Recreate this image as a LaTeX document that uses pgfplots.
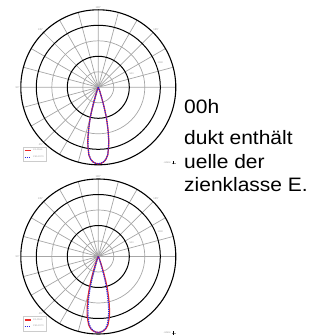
\documentclass[border=0pt]{standalone}
\usepackage{fontspec}
\setmainfont{Liberation Sans}
\newfontfamily\bodyfont[FakeStretch=1.08]{Liberation Sans}
\usepackage{pgfplots}
\usepackage{pgfplotstable}
\usepgfplotslibrary{polar}
\pgfplotsset{compat=1.18}

% intensity I (cd/klm) against gamma t (deg); t<0 is the opposite half plane
\pgfplotstableread{
t I
-90 0
-60 0
-40 2
-30 6
-25 15
-22 35
-20 70
-19 110
-18 170
-17 260
-16 380
-15 500
-14 590
-13 690
-12 790
-11 890
-10 965
-8 1100
-6 1170
-4 1208
-2 1228
0 1235
2 1228
4 1208
6 1170
8 1100
10 965
11 890
12 790
13 690
14 590
15 500
16 380
17 260
18 170
19 110
20 70
22 35
25 15
30 6
40 2
60 0
90 0
}\redA
\pgfplotstableread{
t I
-90 0
-60 0
-40 2
-30 5
-25 13
-22 32
-20 65
-19 105
-18 160
-17 250
-16 370
-15 490
-14 580
-13 680
-12 780
-11 880
-10 955
-8 1095
-6 1168
-4 1206
-2 1226
0 1233
2 1226
4 1206
6 1168
8 1095
10 955
11 880
12 780
13 680
14 580
15 490
16 370
17 250
18 160
19 105
20 65
22 32
25 13
30 5
40 2
60 0
90 0
}\blueA
\pgfplotstableread{
t I
-90 0
-60 0
-44 2
-32 7
-26 20
-23 50
-21 95
-20 140
-19 205
-18 295
-17 405
-16 510
-15 600
-14 690
-13 780
-12 865
-11 945
-10 1010
-8 1115
-6 1172
-4 1203
-2 1219
0 1225
2 1219
4 1203
6 1172
8 1115
10 1010
11 945
12 865
13 780
14 690
15 600
16 510
17 405
18 295
19 205
20 140
21 95
23 50
26 20
32 7
44 2
60 0
90 0
}\redB
\pgfplotstableread{
t I
-90 0
-60 0
-40 2
-30 5
-25 14
-22 33
-20 68
-19 105
-18 165
-17 255
-16 370
-15 490
-14 580
-13 680
-12 780
-11 880
-10 955
-8 1090
-6 1160
-4 1198
-2 1218
0 1225
2 1218
4 1198
6 1160
8 1090
10 955
11 880
12 780
13 680
14 580
15 490
16 370
17 255
18 165
19 105
20 68
22 33
25 14
30 5
40 2
60 0
90 0
}\blueB

\definecolor{cred}{RGB}{235,40,40}
\definecolor{cblue}{RGB}{40,40,230}

\pgfplotsset{
  ldk/.style={
    anchor=center, scale only axis,
    width=155bp, height=155bp,
    xmin=0, xmax=360, ymin=0, ymax=1250,
    xtick={-90,-45,0,45,90,135,180,225},
    xticklabels={0°,45°,,135°,180°,135°,90°,45°},
    minor xtick={-75,-60,-30,-15,15,30,60,75,105,120,150,165,195,210,240,255},
    ytick={500,1000}, minor ytick={250,750},
    yticklabels={},
    grid=both,
    major x grid style={gray!70, line width=0.7bp},
    minor x grid style={gray!70, line width=0.7bp},
    major y grid style={black, line width=1bp},
    minor y grid style={gray!70, line width=0.7bp},
    separate axis lines,
    x axis line style={black, line width=1.1bp},
    y axis line style={draw=none},
    major tick length=0pt, minor tick length=0pt,
    xticklabel style={font=\fontsize{2.6}{3}\selectfont, text=gray!80, inner sep=1bp},
    legend style={at={(0.015,0.02)}, anchor=south west,
      font=\fontsize{2.3}{2.6}\selectfont, text=gray!80,
      draw=gray!40, inner sep=0.6bp, row sep=-0.6bp},
    legend cell align=left,
    legend image code/.code={\draw[##1] (0bp,0bp) -- (6bp,0bp);},
  },
  redline/.style={cred, line width=1.2bp, mark=none},
  blueline/.style={cblue, line width=1.2bp, densely dotted, mark=none},
}

\begin{document}
\begin{tikzpicture}
\useasboundingbox (0bp,0bp) rectangle (331bp,335bp);
\clip (0bp,0bp) rectangle (331bp,335bp);

% text of the data sheet, partly hidden behind the diagrams
\begin{scope}[every node/.style={anchor=base west, inner sep=0pt,
    font=\bodyfont\fontsize{19.5}{23}\selectfont}]
\node at (184bp,221bp) {00h};
\node at (184bp,190bp) {dukt enthält};
\node at (184bp,166.5bp) {uelle der};
\node at (184bp,143.5bp) {zienklasse E.};
\end{scope}

\begin{polaraxis}[ldk, at={(98.3bp,247.7bp)}]
\addplot[redline] table[x expr=\thisrow{t}-90, y=I] {\redA};
\addlegendentry{C0-C180}
\addplot[blueline] table[x expr=\thisrow{t}-90, y=I] {\blueA};
\addlegendentry{C90-C270}
\node[font=\fontsize{2.4}{3}\selectfont, text=gray!80] at (axis cs:22,580) {500};
\node[font=\fontsize{2.4}{3}\selectfont, text=gray!80] at (axis cs:22,1080) {1000};
\end{polaraxis}

\begin{polaraxis}[ldk, at={(98.3bp,78.5bp)}]
\addplot[redline] table[x expr=\thisrow{t}-90, y=I] {\redB};
\addlegendentry{C0-C180}
\addplot[blueline] table[x expr=\thisrow{t}-90, y=I] {\blueB};
\addlegendentry{C90-C270}
\node[font=\fontsize{2.4}{3}\selectfont, text=gray!80] at (axis cs:22,580) {500};
\node[font=\fontsize{2.4}{3}\selectfont, text=gray!80] at (axis cs:22,1080) {1000};
\end{polaraxis}

% unit marks
\foreach \yy in {172,2}{
  \node[anchor=east, inner sep=0pt, font=\fontsize{2.4}{3}\selectfont, text=gray!80]
    at (171bp,\yy bp) {cd/klm};
  \draw[gray!80, line width=0.3bp] (171.5bp,\yy bp) -- (176bp,\yy bp);
  \draw[black, line width=0.6bp] (173.5bp,\yy bp-1.5bp) -- (173.5bp,\yy bp+1.5bp);
}
\end{tikzpicture}
\end{document}
